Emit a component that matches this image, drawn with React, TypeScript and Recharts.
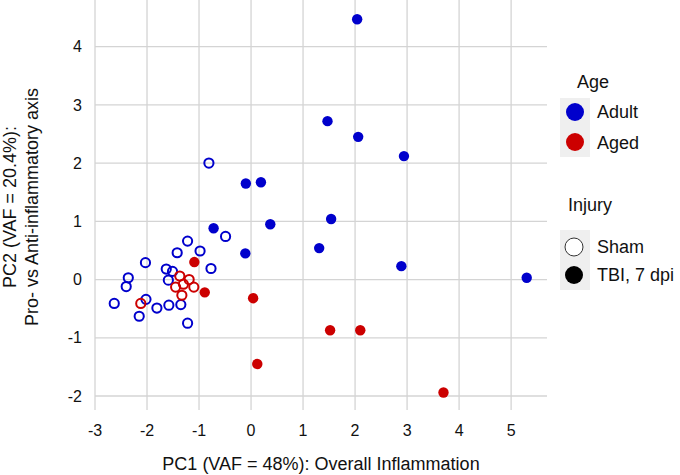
import { ScatterChart, Scatter, XAxis, YAxis, CartesianGrid } from 'recharts'

// PCA scores: [PC1, PC2]
const adultSham: [number, number][] = [
  [-0.81, 2.0], [-1.22, 0.66], [-1.42, 0.46], [-0.98, 0.49], [-0.49, 0.74],
  [-2.03, 0.29], [-1.63, 0.18], [-1.51, 0.14], [-0.77, 0.19], [-2.36, 0.03],
  [-1.59, -0.01], [-2.4, -0.12], [-2.02, -0.34], [-2.63, -0.41], [-1.81, -0.49],
  [-1.58, -0.44], [-1.35, -0.43], [-2.15, -0.63], [-1.22, -0.75],
]
const adultTBI: [number, number][] = [
  [2.04, 4.47], [1.47, 2.72], [2.06, 2.45], [2.94, 2.12], [-0.1, 1.65],
  [0.19, 1.67], [-0.72, 0.88], [0.37, 0.95], [1.54, 1.04], [1.31, 0.54],
  [-0.11, 0.45], [2.89, 0.23], [5.3, 0.03],
]
const agedSham: [number, number][] = [
  [-2.12, -0.41], [-1.37, 0.06], [-1.19, 0.0], [-1.45, -0.13],
  [-1.3, -0.08], [-1.1, -0.13], [-1.33, -0.27],
]
const agedTBI: [number, number][] = [
  [-1.09, 0.3], [-0.89, -0.22], [0.04, -0.32], [1.52, -0.87],
  [2.1, -0.87], [0.12, -1.45], [3.7, -1.94],
]

const xTicks = [-3, -2, -1, 0, 1, 2, 3, 4, 5]
const yTicks = [-2, -1, 0, 1, 2, 3, 4]

const BLUE = '#0000cc'
const RED = '#cc0000'
const FONT = '"Liberation Sans", Arial, sans-serif'

const toPts = (arr: [number, number][]) => arr.map(([x, y]) => ({ x, y }))

const openDot = (color: string) => (p: any) =>
  <circle cx={p.cx} cy={p.cy} r={4.6} fill="none" stroke={color} strokeWidth={2} />
const fullDot = (color: string) => (p: any) =>
  <circle cx={p.cx} cy={p.cy} r={5.2} fill={color} />

function YTitle(props: any) {
  const vb = props.viewBox
  const cy = vb.y + vb.height / 2 + 2
  const s = { fontFamily: FONT, fontSize: 18, fill: '#111' }
  return (
    <g>
      <text x={16} y={cy} transform={`rotate(-90 16 ${cy})`} textAnchor="middle" style={s}>
        PC2 (VAF = 20.4%):
      </text>
      <text x={38} y={cy} transform={`rotate(-90 38 ${cy})`} textAnchor="middle" style={s}>
        Pro- vs Anti-inflammatory axis
      </text>
    </g>
  )
}

function LegendBox() {
  const t = { fontFamily: FONT, fontSize: 18, fill: '#111' }
  return (
    <svg width={680} height={475} style={{ position: 'absolute', left: 0, top: 0, pointerEvents: 'none' }}>
      <text x={577} y={88} style={t}>Age</text>
      <rect x={560} y={98} width={30} height={59} fill="#efefef" />
      <circle cx={575} cy={112} r={9} fill={BLUE} />
      <circle cx={575} cy={142} r={9} fill={RED} />
      <text x={597} y={118} style={t}>Adult</text>
      <text x={597} y={149} style={t}>Aged</text>

      <text x={568} y={211} style={t}>Injury</text>
      <rect x={560} y={230} width={30} height={60} fill="#efefef" />
      <circle cx={574} cy={247} r={9} fill="#fff" stroke="#333" strokeWidth={1} />
      <circle cx={574} cy={275} r={9} fill="#000" />
      <text x={597} y={253} style={t}>Sham</text>
      <text x={597} y={281} style={t}>TBI, 7 dpi</text>
    </svg>
  )
}

export default function App() {
  const tick = { fill: '#111', fontSize: 16, fontFamily: FONT }
  return (
    <div style={{ position: 'absolute', left: 0, top: 0, width: 680, height: 475, background: '#fff' }}>
      <ScatterChart width={680} height={475} margin={{ top: 0, right: 133, bottom: 0, left: 0 }}>
        <CartesianGrid
          stroke="#d4d4d4"
          strokeWidth={1.3}
          horizontalValues={yTicks}
          verticalValues={xTicks}
        />
        <XAxis
          type="number"
          dataKey="x"
          domain={[-3, 5.69]}
          ticks={xTicks}
          allowDataOverflow
          axisLine={false}
          tickLine={false}
          tickMargin={9}
          height={65}
          tick={tick}
          label={{
            value: 'PC1 (VAF = 48%): Overall Inflammation',
            position: 'insideBottom',
            offset: 5,
            style: { fill: '#111', fontSize: 18, fontFamily: FONT },
          }}
        />
        <YAxis
          type="number"
          dataKey="y"
          domain={[-2.24, 4.8]}
          ticks={yTicks}
          allowDataOverflow
          axisLine={false}
          tickLine={false}
          tickMargin={7}
          width={95}
          tick={tick}
          label={<YTitle />}
        />
        <Scatter data={toPts(adultSham)} shape={openDot(BLUE)} isAnimationActive={false} />
        <Scatter data={toPts(agedSham)} shape={openDot(RED)} isAnimationActive={false} />
        <Scatter data={toPts(adultTBI)} shape={fullDot(BLUE)} isAnimationActive={false} />
        <Scatter data={toPts(agedTBI)} shape={fullDot(RED)} isAnimationActive={false} />
      </ScatterChart>
      <LegendBox />
    </div>
  )
}
